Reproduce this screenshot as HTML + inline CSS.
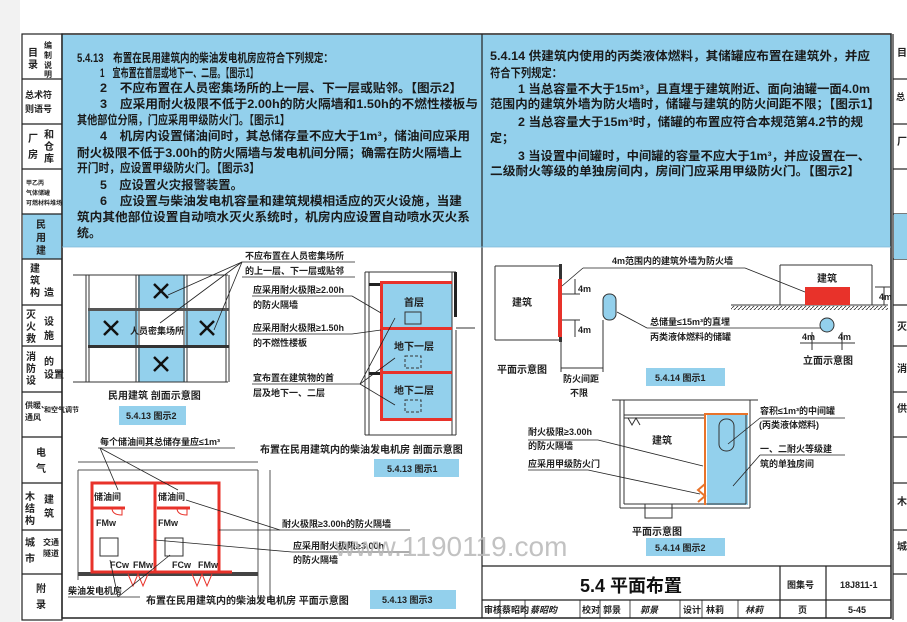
<!DOCTYPE html>
<html><head><meta charset="utf-8"><style>
html,body{margin:0;padding:0;background:#fff;}
svg{display:block;font-family:"Liberation Sans","Noto Sans CJK SC",sans-serif;}
.t{font-size:12px;font-weight:bold;fill:#1a1a1a;}
.s{font-size:9px;font-weight:bold;fill:#222;}
.sb{font-size:10px;font-weight:bold;fill:#222;}
</style></head><body>
<svg width="907" height="622" viewBox="0 0 907 622" xmlns="http://www.w3.org/2000/svg">
<rect x="0" y="0" width="907" height="622" fill="#fff"/>
<rect x="0" y="0" width="20" height="622" fill="#f2f2f2"/>
<!-- left sidebar -->
<g stroke="#222" stroke-width="1.2" fill="#fff">
<rect x="22" y="34" width="40" height="586"/>
<rect x="23" y="214" width="38" height="45" fill="#93d0ec" stroke="none"/>
<line x1="22" y1="79" x2="62" y2="79"/><line x1="22" y1="124" x2="62" y2="124"/>
<line x1="22" y1="169" x2="62" y2="169"/><line x1="22" y1="214" x2="62" y2="214"/>
<line x1="22" y1="259" x2="62" y2="259"/><line x1="22" y1="305" x2="62" y2="305"/>
<line x1="22" y1="346" x2="62" y2="346"/><line x1="22" y1="392" x2="62" y2="392"/>
<line x1="22" y1="437" x2="62" y2="437"/><line x1="22" y1="483" x2="62" y2="483"/>
<line x1="22" y1="530" x2="62" y2="530"/><line x1="22" y1="574" x2="62" y2="574"/>
</g>
<g class="sb">
<text x="28" y="56">目</text><text x="28" y="68">录</text><text x="44" y="48" font-size="8">编</text><text x="44" y="58" font-size="8">制</text><text x="44" y="68" font-size="8">说</text><text x="44" y="77" font-size="8">明</text>
<text x="25" y="98" font-size="9">总术符</text><text x="25" y="112" font-size="9">则语号</text>
<text x="28" y="142">厂</text><text x="28" y="158">房</text><text x="44" y="138">和</text><text x="44" y="150">仓</text><text x="44" y="162">库</text>
<text x="26" y="185" font-size="6">甲乙丙</text><text x="26" y="195" font-size="6">气体储罐</text><text x="26" y="205" font-size="6">可燃材料堆场</text>
<text x="36" y="228">民</text><text x="36" y="241">用</text><text x="36" y="254">建</text>
<text x="30" y="272">建</text><text x="30" y="284">筑</text><text x="30" y="296">构</text><text x="44" y="296">造</text>
<text x="26" y="318">灭</text><text x="26" y="330">火</text><text x="26" y="342">救</text><text x="44" y="325">设</text><text x="44" y="339">施</text>
<text x="26" y="360">消</text><text x="26" y="372">防</text><text x="26" y="384">设</text><text x="44" y="365">的</text><text x="44" y="378">设置</text>
<text x="25" y="408" font-size="8">供暖、</text><text x="25" y="420" font-size="8">通风</text><text x="44" y="412" font-size="7">和空气调节</text>
<text x="36" y="456">电</text><text x="36" y="472">气</text>
<text x="25" y="500">木</text><text x="25" y="512">结</text><text x="25" y="524">构</text><text x="44" y="503">建</text><text x="44" y="517">筑</text>
<text x="25" y="546">城</text><text x="25" y="562">市</text><text x="43" y="545" font-size="8">交通</text><text x="43" y="556" font-size="8">隧道</text>
<text x="36" y="592">附</text><text x="36" y="608">录</text>
</g>
<!-- right partial sidebar -->
<g stroke="#222" stroke-width="1.2" fill="none">
<line x1="893" y1="34" x2="893" y2="620"/>
<line x1="893" y1="79" x2="907" y2="79"/><line x1="893" y1="124" x2="907" y2="124"/><line x1="893" y1="169" x2="907" y2="169"/><line x1="893" y1="214" x2="907" y2="214"/><line x1="893" y1="259" x2="907" y2="259"/><line x1="893" y1="305" x2="907" y2="305"/><line x1="893" y1="346" x2="907" y2="346"/><line x1="893" y1="392" x2="907" y2="392"/><line x1="893" y1="437" x2="907" y2="437"/><line x1="893" y1="483" x2="907" y2="483"/><line x1="893" y1="530" x2="907" y2="530"/><line x1="893" y1="574" x2="907" y2="574"/>
</g>
<rect x="894" y="214" width="13" height="45" fill="#93d0ec"/>
<g class="sb"><text x="897" y="56">目</text><text x="896" y="100" font-size="9">总</text><text x="897" y="145">厂</text><text x="897" y="330">灭</text><text x="897" y="372">消</text><text x="897" y="412">供</text><text x="897" y="505">木</text><text x="897" y="550">城</text></g>

<!-- main frame -->
<rect x="62" y="35" width="829" height="212" fill="#93d0ec"/>
<g stroke="#222" fill="none">
<rect x="62" y="34" width="829" height="584" stroke-width="1.5"/>
<line x1="482" y1="34" x2="482" y2="618" stroke-width="1.2"/>
<line x1="62" y1="247" x2="891" y2="247" stroke-width="0.8" stroke="#7fb9d6"/>
</g>

<!-- left text -->
<g class="t">
<text x="77" y="62" textLength="256" lengthAdjust="spacingAndGlyphs">5.4.13　布置在民用建筑内的柴油发电机房应符合下列规定：</text>
<text x="100" y="77" textLength="158" lengthAdjust="spacingAndGlyphs">1　宜布置在首层或地下一、二层。【图示1】</text>
<text x="100" y="92" textLength="362" lengthAdjust="spacingAndGlyphs">2　不应布置在人员密集场所的上一层、下一层或贴邻。【图示2】</text>
<text x="100" y="108" textLength="378" lengthAdjust="spacingAndGlyphs">3　应采用耐火极限不低于2.00h的防火隔墙和1.50h的不燃性楼板与</text>
<text x="77" y="124" textLength="213" lengthAdjust="spacingAndGlyphs">其他部位分隔，门应采用甲级防火门。【图示1】</text>
<text x="100" y="140" textLength="370" lengthAdjust="spacingAndGlyphs">4　机房内设置储油间时，其总储存量不应大于1m³，储油间应采用</text>
<text x="77" y="157" textLength="385" lengthAdjust="spacingAndGlyphs">耐火极限不低于3.00h的防火隔墙与发电机间分隔；确需在防火隔墙上</text>
<text x="77" y="172" textLength="183" lengthAdjust="spacingAndGlyphs">开门时，应设置甲级防火门。【图示3】</text>
<text x="100" y="189" textLength="143" lengthAdjust="spacingAndGlyphs">5　应设置火灾报警装置。</text>
<text x="100" y="205" textLength="362" lengthAdjust="spacingAndGlyphs">6　应设置与柴油发电机容量和建筑规模相适应的灭火设施，当建</text>
<text x="77" y="221" textLength="393" lengthAdjust="spacingAndGlyphs">筑内其他部位设置自动喷水灭火系统时，机房内应设置自动喷水灭火系</text>
<text x="77" y="237">统。</text>
</g>
<!-- right text -->
<g class="t">
<text x="490" y="60" textLength="380" lengthAdjust="spacingAndGlyphs">5.4.14 供建筑内使用的丙类液体燃料，其储罐应布置在建筑外，并应</text>
<text x="490" y="77" textLength="72" lengthAdjust="spacingAndGlyphs">符合下列规定：</text>
<text x="518" y="93" textLength="352" lengthAdjust="spacingAndGlyphs">1 当总容量不大于15m³，且直埋于建筑附近、面向油罐一面4.0m</text>
<text x="490" y="108" textLength="390" lengthAdjust="spacingAndGlyphs">范围内的建筑外墙为防火墙时，储罐与建筑的防火间距不限；【图示1】</text>
<text x="518" y="126" textLength="345" lengthAdjust="spacingAndGlyphs">2 当总容量大于15m³时，储罐的布置应符合本规范第4.2节的规</text>
<text x="490" y="142">定；</text>
<text x="518" y="160" textLength="352" lengthAdjust="spacingAndGlyphs">3 当设置中间罐时，中间罐的容量不应大于1m³，并应设置在一、</text>
<text x="490" y="175" textLength="370" lengthAdjust="spacingAndGlyphs">二级耐火等级的单独房间内，房间门应采用甲级防火门。【图示2】</text>
</g>

<!-- Diagram: 民用建筑 剖面 -->
<g>
<rect x="138" y="275" width="47" height="33" fill="#93d0ec"/>
<rect x="88" y="311" width="50" height="34" fill="#93d0ec"/>
<rect x="185" y="311" width="42" height="34" fill="#93d0ec"/>
<rect x="138" y="348" width="47" height="34" fill="#93d0ec"/>
<g stroke="#333" stroke-width="1" fill="none">
<line x1="73" y1="275" x2="228" y2="275"/><line x1="73" y1="382" x2="228" y2="382"/>
<line x1="86" y1="275" x2="86" y2="382"/><line x1="89" y1="275" x2="89" y2="382"/>
<line x1="136" y1="275" x2="136" y2="382"/><line x1="139" y1="275" x2="139" y2="382"/>
<line x1="184" y1="275" x2="184" y2="382"/><line x1="187" y1="275" x2="187" y2="382"/>
<line x1="226" y1="275" x2="226" y2="382"/><line x1="229" y1="275" x2="229" y2="382"/>
</g>
<rect x="88" y="308" width="141" height="3" fill="#555"/>
<rect x="88" y="345" width="141" height="3" fill="#333"/>
<g stroke="#111" stroke-width="2.5">
<line x1="154" y1="284" x2="168" y2="298"/><line x1="168" y1="284" x2="154" y2="298"/>
<line x1="104" y1="321" x2="118" y2="335"/><line x1="118" y1="321" x2="104" y2="335"/>
<line x1="200" y1="321" x2="214" y2="335"/><line x1="214" y1="321" x2="200" y2="335"/>
<line x1="154" y1="357" x2="168" y2="371"/><line x1="168" y1="357" x2="154" y2="371"/>
</g>
<text class="s" x="130" y="334" font-size="10">人员密集场所</text>
<g stroke="#222" stroke-width="0.8" fill="none">
<line x1="242" y1="262" x2="355" y2="262"/><line x1="242" y1="277" x2="355" y2="277"/>
<line x1="242" y1="262" x2="168" y2="295"/><line x1="242" y1="262" x2="160" y2="323"/><line x1="242" y1="262" x2="214" y2="330"/>
</g>
<text class="s" x="245" y="259">不应布置在人员密集场所</text>
<text class="s" x="245" y="274">的上一层、下一层或贴邻</text>
<text class="sb" x="108" y="399">民用建筑  剖面示意图</text>
<rect x="119" y="406" width="67" height="19" fill="#93d0ec"/>
<text class="s" x="126" y="419">5.4.13 图示2</text>
</g>

<!-- Diagram: 柴油发电机房 剖面 -->
<g>
<rect x="382" y="284" width="70" height="136" fill="#93d0ec"/>
<g stroke="#333" stroke-width="1" fill="none">
<line x1="365" y1="272" x2="365" y2="435"/><line x1="369" y1="272" x2="369" y2="435"/>
<line x1="452" y1="272" x2="452" y2="435"/><line x1="456" y1="330" x2="456" y2="435"/>
<line x1="365" y1="272" x2="456" y2="272"/><line x1="365" y1="435" x2="456" y2="435"/>
<line x1="456" y1="328" x2="475" y2="328"/>
</g>
<rect x="454" y="272" width="3" height="45" fill="#222"/>
<g fill="#e8322a">
<rect x="380" y="281" width="72" height="3"/><rect x="380" y="327" width="72" height="3"/>
<rect x="380" y="371" width="72" height="3"/><rect x="380" y="418" width="72" height="3"/>
<rect x="380" y="281" width="3" height="140"/>
</g>
<rect x="369" y="283" width="11" height="3" fill="#222"/>
<rect x="369" y="372" width="11" height="3" fill="#222"/>
<text class="sb" x="404" y="306">首层</text>
<text class="sb" x="394" y="350">地下一层</text>
<text class="sb" x="394" y="394">地下二层</text>
<rect x="405" y="312" width="16" height="12" fill="none" stroke="#333" stroke-width="1"/>
<rect x="405" y="356" width="16" height="12" fill="none" stroke="#333" stroke-dasharray="3 2"/>
<rect x="405" y="400" width="16" height="12" fill="none" stroke="#333" stroke-dasharray="3 2"/>
<g stroke="#222" stroke-width="0.8" fill="none">
<line x1="252" y1="296" x2="352" y2="296"/><line x1="352" y1="296" x2="381" y2="313"/>
<line x1="252" y1="334" x2="352" y2="334"/><line x1="352" y1="334" x2="381" y2="330"/>
<line x1="252" y1="384" x2="360" y2="384"/><line x1="360" y1="384" x2="395" y2="318"/><line x1="360" y1="384" x2="395" y2="358"/><line x1="360" y1="384" x2="395" y2="405"/>
</g>
<text class="s" x="253" y="293">应采用耐火极限≥2.00h</text>
<text class="s" x="253" y="308">的防火隔墙</text>
<text class="s" x="253" y="331">应采用耐火极限≥1.50h</text>
<text class="s" x="253" y="346">的不燃性楼板</text>
<text class="s" x="253" y="381">宜布置在建筑物的首</text>
<text class="s" x="253" y="396">层及地下一、二层</text>
<text class="sb" x="260" y="453">布置在民用建筑内的柴油发电机房    剖面示意图</text>
<rect x="374" y="459" width="85" height="18" fill="#93d0ec"/>
<text class="s" x="387" y="472">5.4.13 图示1</text>
</g>

<!-- Diagram: 柴油发电机房 平面 -->
<g>
<g stroke="#555" stroke-width="1" fill="none">
<line x1="78" y1="462" x2="258" y2="462"/><line x1="78" y1="470" x2="258" y2="470"/>
<line x1="78" y1="470" x2="78" y2="580"/><line x1="258" y1="470" x2="258" y2="600"/><line x1="270" y1="470" x2="270" y2="600"/>
</g>
<rect x="78" y="572" width="180" height="4" fill="#444"/>
<g stroke="#e8322a" stroke-width="3" fill="none">
<rect x="92" y="483" width="127" height="89"/>
<line x1="155" y1="483" x2="155" y2="572"/>
<line x1="92" y1="508" x2="125" y2="508"/><line x1="157" y1="508" x2="190" y2="508"/>
<line x1="219" y1="572" x2="232" y2="572"/>
</g>
<g stroke="#e8322a" stroke-width="1" fill="none">
<path d="M122 508 L122 515 Q112 515 112 508"/><path d="M187 508 L187 515 Q177 515 177 508"/>
<path d="M128 574 L133 586 L138 574 L143 586 L148 574"/><path d="M192 574 L197 586 L202 574 L207 586 L212 574"/>
</g>
<rect x="100" y="538" width="18" height="18" fill="#fff" stroke="#333"/>
<rect x="165" y="538" width="18" height="18" fill="#fff" stroke="#333"/>
<text class="s" x="94" y="500">储油间</text><text class="s" x="158" y="500">储油间</text>
<text class="s" x="96" y="526" font-size="8">FMw</text><text class="s" x="158" y="526" font-size="8">FMw</text>
<text class="s" x="110" y="568" font-size="8">FCw</text><text class="s" x="133" y="568" font-size="8">FMw</text>
<text class="s" x="172" y="568" font-size="8">FCw</text><text class="s" x="198" y="568" font-size="8">FMw</text>
<g stroke="#222" stroke-width="0.8" fill="none">
<line x1="98" y1="448" x2="235" y2="448"/><line x1="100" y1="448" x2="118" y2="490"/><line x1="100" y1="448" x2="178" y2="490"/>
<line x1="280" y1="530" x2="410" y2="530"/><line x1="280" y1="530" x2="186" y2="500"/><line x1="280" y1="530" x2="219" y2="530"/>
<line x1="292" y1="552" x2="410" y2="552"/><line x1="292" y1="552" x2="155" y2="540"/>
<line x1="68" y1="597" x2="140" y2="597"/><line x1="118" y1="597" x2="170" y2="555"/><line x1="118" y1="597" x2="110" y2="560"/>
</g>
<text class="s" x="100" y="445">每个储油间其总储存量应≤1m³</text>
<text class="s" x="282" y="527">耐火极限≥3.00h的防火隔墙</text>
<text class="s" x="293" y="549">应采用耐火极限≥3.00h</text>
<text class="s" x="293" y="563">的防火隔墙</text>
<text class="s" x="68" y="594">柴油发电机房</text>
<text class="sb" x="146" y="604">布置在民用建筑内的柴油发电机房  平面示意图</text>
<rect x="370" y="590" width="86" height="19" fill="#93d0ec"/>
<text class="s" x="382" y="603">5.4.13 图示3</text>
</g>

<!-- Diagram: 5.4.14 图示1 -->
<g>
<g stroke="#333" stroke-width="1" fill="none">
<line x1="495" y1="266" x2="562" y2="266"/><line x1="495" y1="340" x2="562" y2="340"/>
<line x1="495" y1="266" x2="495" y2="340"/>
<line x1="561" y1="340" x2="561" y2="372"/><line x1="603" y1="320" x2="603" y2="372"/><line x1="561" y1="368" x2="603" y2="368"/>
<line x1="562" y1="294" x2="580" y2="294"/><line x1="562" y1="320" x2="580" y2="320"/>
<line x1="575" y1="279" x2="575" y2="294"/><line x1="575" y1="320" x2="575" y2="337"/>
</g>
<rect x="559" y="264" width="3" height="78" fill="#333"/>
<rect x="558" y="279" width="4" height="58" fill="#e8322a"/>
<rect x="603" y="294" width="13" height="26" rx="6" fill="#93d0ec" stroke="#333"/>
<text class="sb" x="512" y="306">建筑</text>
<text class="s" x="578" y="292" font-size="7">4m</text><text class="s" x="578" y="333" font-size="7">4m</text>
<text class="sb" x="497" y="373">平面示意图</text>
<text class="s" x="563" y="382">防火间距</text><text class="s" x="570" y="396">不限</text>
<g stroke="#222" stroke-width="0.8" fill="none">
<line x1="583" y1="268" x2="745" y2="268"/><line x1="583" y1="268" x2="562" y2="286"/><line x1="745" y1="268" x2="820" y2="298"/>
<line x1="617" y1="312" x2="647" y2="328"/><line x1="647" y1="328" x2="822" y2="328"/>
</g>
<text class="s" x="612" y="264">4m范围内的建筑外墙为防火墙</text>
<text class="s" x="650" y="325">总储量≤15m³的直埋</text>
<text class="s" x="650" y="340">丙类液体燃料的储罐</text>
<g stroke="#333" stroke-width="1" fill="none">
<line x1="780" y1="265" x2="872" y2="265"/><line x1="780" y1="265" x2="780" y2="305"/><line x1="872" y1="265" x2="872" y2="305"/>
<line x1="731" y1="305" x2="888" y2="305"/>
<line x1="875" y1="287" x2="890" y2="287"/><line x1="884" y1="287" x2="884" y2="305"/>
<line x1="812" y1="332" x2="812" y2="350"/><line x1="842" y1="332" x2="842" y2="350"/><line x1="800" y1="343" x2="855" y2="343"/>
</g>
<defs><pattern id="h" width="4" height="4" patternUnits="userSpaceOnUse"><line x1="0" y1="4" x2="4" y2="0" stroke="#333" stroke-width="0.8"/></pattern></defs>
<path d="M731 306 L888 306 L888 310 L731 310 Z" fill="url(#h)"/>
<rect x="805" y="287" width="45" height="18" fill="#e8322a"/>
<text class="sb" x="817" y="282">建筑</text>
<circle cx="827" cy="325" r="7" fill="#93d0ec" stroke="#333"/>
<text class="s" x="802" y="340" font-size="7">4m</text><text class="s" x="838" y="340" font-size="7">4m</text>
<text class="s" x="879" y="300" font-size="7">4m</text>
<text class="sb" x="803" y="364">立面示意图</text>
<rect x="646" y="368" width="79" height="18" fill="#93d0ec"/>
<text class="s" x="655" y="381">5.4.14 图示1</text>
</g>

<!-- Diagram: 5.4.14 图示2 -->
<g>
<rect x="707" y="415" width="41" height="90" fill="#93d0ec"/>
<g stroke="#333" stroke-width="1" fill="none">
<line x1="612" y1="400" x2="758" y2="400"/>
<line x1="620" y1="400" x2="620" y2="508"/><line x1="624" y1="400" x2="624" y2="504"/>
<line x1="750" y1="400" x2="750" y2="508"/><line x1="746" y1="415" x2="746" y2="504"/>
<line x1="620" y1="508" x2="750" y2="508"/><line x1="624" y1="504" x2="746" y2="504"/>
<line x1="624" y1="415" x2="706" y2="415"/><line x1="624" y1="418" x2="706" y2="418"/>
<path d="M645 504 L645 518 L672 518 L672 504"/>
<path d="M628 418 L632 425 L636 418 L640 425"/>
</g>
<g stroke="#e8732a" stroke-width="2" fill="none">
<line x1="704" y1="414" x2="748" y2="414"/><line x1="705" y1="414" x2="705" y2="505"/>
<path d="M705 484 L698 490 L705 496 L698 502"/>
</g>
<rect x="719" y="419" width="15" height="32" rx="7" fill="#93d0ec" stroke="#333"/>
<text class="sb" x="652" y="444">建筑</text>
<g stroke="#222" stroke-width="0.8" fill="none">
<line x1="528" y1="440" x2="598" y2="440"/><line x1="598" y1="440" x2="703" y2="466"/>
<line x1="528" y1="470" x2="588" y2="470"/><line x1="588" y1="470" x2="700" y2="494"/>
<line x1="760" y1="418" x2="845" y2="418"/><line x1="760" y1="418" x2="728" y2="444"/>
<line x1="760" y1="455" x2="845" y2="455"/><line x1="760" y1="455" x2="733" y2="486"/>
</g>
<text class="s" x="528" y="435">耐火极限≥3.00h</text>
<text class="s" x="528" y="449">的防火隔墙</text>
<text class="s" x="528" y="467">应采用甲级防火门</text>
<text class="s" x="760" y="414">容积≤1m³的中间罐</text>
<text class="s" x="759" y="428">(丙类液体燃料)</text>
<text class="s" x="760" y="452">一、二耐火等级建</text>
<text class="s" x="760" y="467">筑的单独房间</text>
<text class="sb" x="632" y="535">平面示意图</text>
<rect x="646" y="538" width="79" height="18" fill="#93d0ec"/>
<text class="s" x="655" y="551">5.4.14 图示2</text>
</g>

<!-- watermark -->
<text x="335" y="556" font-size="28" fill="#b8b8b8" opacity="0.85" font-family="Liberation Sans, sans-serif">www.1190119.com</text>

<!-- title block -->
<g stroke="#222" stroke-width="1.2" fill="none">
<line x1="482" y1="566" x2="891" y2="566"/>
<line x1="482" y1="600" x2="891" y2="600"/>
<line x1="780" y1="566" x2="780" y2="618"/>
<line x1="826" y1="566" x2="826" y2="618"/>
</g>
<g stroke="#222" stroke-width="0.8">
<line x1="500" y1="600" x2="500" y2="618"/><line x1="525" y1="600" x2="525" y2="618"/><line x1="580" y1="600" x2="580" y2="618"/><line x1="600" y1="600" x2="600" y2="618"/><line x1="630" y1="600" x2="630" y2="618"/><line x1="680" y1="600" x2="680" y2="618"/><line x1="702" y1="600" x2="702" y2="618"/><line x1="738" y1="600" x2="738" y2="618"/>
</g>
<text x="580" y="592" font-size="18" font-weight="bold" fill="#111">5.4 平面布置</text>
<g class="s">
<text x="787" y="588">图集号</text><text x="840" y="588">18J811-1</text>
<text x="484" y="613">审核</text><text x="502" y="613">蔡昭昀</text><text x="530" y="613" font-style="italic">蔡昭昀</text>
<text x="582" y="613">校对</text><text x="603" y="613">郭景</text><text x="640" y="613" font-style="italic">郭景</text>
<text x="683" y="613">设计</text><text x="706" y="613">林莉</text><text x="745" y="613" font-style="italic">林莉</text>
<text x="798" y="613">页</text><text x="848" y="613">5-45</text>
</g>
</svg>
</body></html>
